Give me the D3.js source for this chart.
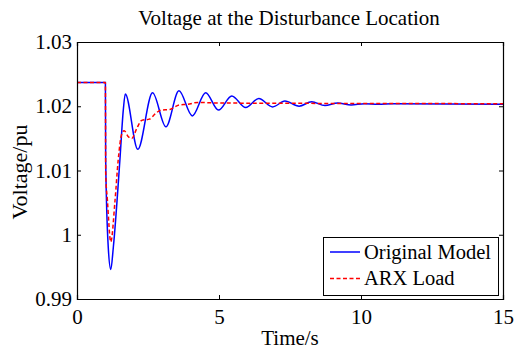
<!DOCTYPE html>
<html>
<head>
<meta charset="utf-8">
<script src="https://cdn.jsdelivr.net/npm/d3@7/dist/d3.min.js"></script>
<style>
  html, body { margin: 0; padding: 0; background: #fff; }
  svg { display: block; }
  svg text { font-family: "Liberation Serif", "Times New Roman", serif; fill: #000; }
</style>
</head>
<body>
<svg id="chart" width="515" height="350"></svg>
<script>
// Original model response (time in s, voltage in pu)
const origTime = [0, 1.0, 1.01, 1.10, 1.19, 1.28, 1.51, 1.63, 1.70, 2.14, 2.66, 3.13, 3.59, 4.06, 4.53, 4.98, 5.45, 5.94, 6.40, 6.89, 7.32, 7.82, 8.26, 8.73, 9.18, 9.65, 10.12, 10.6, 11.1, 15];
const origVolt = [1.0237, 1.0237, 1.0116, 0.9981, 0.9946, 0.9981, 1.0116, 1.0194, 1.0219, 1.0133, 1.0221, 1.0168, 1.0224, 1.0185, 1.0221, 1.0194, 1.0216, 1.0198, 1.0212, 1.0199, 1.0208, 1.0200, 1.0207, 1.0201, 1.0205, 1.0202, 1.0204, 1.0203, 1.0204, 1.0203];

// ARX load model response
const arxTime = [0, 1.0, 1.01, 1.07, 1.19, 1.34, 1.45, 1.57, 1.66, 1.80, 1.93, 2.10, 2.28, 2.55, 2.75, 2.95, 3.27, 3.45, 3.60, 3.90, 4.25, 5, 15];
const arxVolt = [1.0237, 1.0237, 1.0096, 1.0054, 0.9989, 1.0054, 1.0116, 1.0156, 1.0162, 1.0153, 1.0150, 1.0165, 1.0178, 1.0180, 1.0188, 1.0194, 1.0195, 1.0199, 1.0202, 1.0203, 1.0206, 1.0205, 1.0204];

const xTicks = [0, 5, 10, 15];
const yTicks = [0.99, 1.0, 1.01, 1.02, 1.03];
const seriesNames = ["Original Model", "ARX Load"];

const svg = d3.select("#chart");
const L = 77, R = 503, T = 42, B = 299;

const x = d3.scaleLinear().domain([0, 15]).range([L, R]);
const y = d3.scaleLinear().domain([0.99, 1.03]).range([B, T]);

const fmtY = d => (d === 1 ? "1" : d3.format(".2f")(d));

// Response curves
const line = d3.line().x(d => x(d[0])).y(d => y(d[1])).curve(d3.curveMonotoneX);

const plot = svg.append("g");
plot.append("path")
  .datum(d3.zip(origTime, origVolt))
  .attr("d", line)
  .attr("fill", "none")
  .attr("stroke", "#0000ff")
  .attr("stroke-width", 1.5);

plot.append("path")
  .datum(d3.zip(arxTime, arxVolt))
  .attr("d", line)
  .attr("fill", "none")
  .attr("stroke", "#ff0000")
  .attr("stroke-width", 1.5)
  .attr("stroke-dasharray", "4,2.5");

// Axes box with inward ticks mirrored on top and right
const tickLen = 4;
const axB = svg.append("g").attr("transform", `translate(0,${B})`)
  .call(d3.axisBottom(x).tickValues(xTicks).tickSize(-tickLen).tickPadding(10).tickFormat(d3.format("d")));
const axT = svg.append("g").attr("transform", `translate(0,${T})`)
  .call(d3.axisTop(x).tickValues(xTicks).tickSize(-tickLen).tickFormat(""));
const axL = svg.append("g").attr("transform", `translate(${L},0)`)
  .call(d3.axisLeft(y).tickValues(yTicks).tickSize(-tickLen).tickPadding(5).tickFormat(fmtY));
const axR = svg.append("g").attr("transform", `translate(${R},0)`)
  .call(d3.axisRight(y).tickValues(yTicks).tickSize(-tickLen).tickFormat(""));

[axB, axT, axL, axR].forEach(a => {
  a.attr("font-family", null).attr("font-size", null);
  a.select(".domain").attr("stroke", "#000").attr("stroke-width", 1.2);
  a.selectAll(".tick line").attr("stroke", "#000").attr("stroke-width", 1);
  a.selectAll(".tick text")
    .attr("fill", "#000")
    .style("font-size", "21px");
});
axB.selectAll(".tick text").attr("dy", "0.71em");

// Title and axis labels
svg.append("text")
  .attr("x", 289).attr("y", 25)
  .attr("text-anchor", "middle")
  .style("font-size", "21px")
  .text("Voltage at the Disturbance Location");

svg.append("text")
  .attr("x", 290).attr("y", 345)
  .attr("text-anchor", "middle")
  .style("font-size", "21px")
  .text("Time/s");

svg.append("text")
  .attr("transform", "translate(27,172) rotate(-90)")
  .attr("text-anchor", "middle")
  .style("font-size", "22px")
  .text("Voltage/pu");

// Legend
const lg = svg.append("g");
lg.append("rect")
  .attr("x", 323.5).attr("y", 237.5)
  .attr("width", 175).attr("height", 58)
  .attr("fill", "#fff")
  .attr("stroke", "#000")
  .attr("stroke-width", 1);

const legendStyles = [
  { color: "#0000ff", dash: null },
  { color: "#ff0000", dash: "4,2.5" }
];
seriesNames.forEach((name, i) => {
  const cy = 252 + i * 26.5;
  lg.append("line")
    .attr("x1", 330).attr("x2", 360)
    .attr("y1", cy).attr("y2", cy)
    .attr("stroke", legendStyles[i].color)
    .attr("stroke-width", 1.5)
    .attr("stroke-dasharray", legendStyles[i].dash);
  lg.append("text")
    .attr("x", 364).attr("y", cy)
    .attr("dy", "0.33em")
    .style("font-size", "20.5px")
    .text(name);
});
</script>
</body>
</html>
